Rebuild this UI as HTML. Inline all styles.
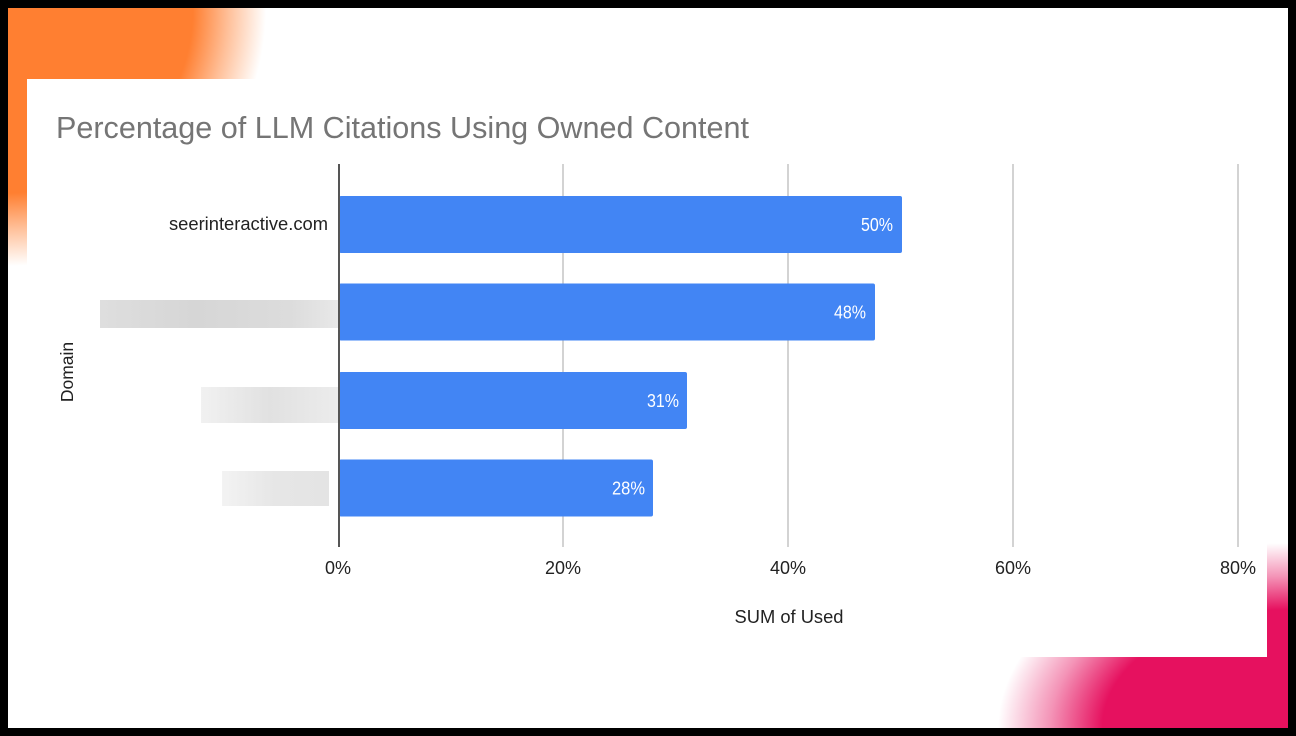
<!DOCTYPE html>
<html>
<head>
<meta charset="utf-8">
<style>
  html, body { margin: 0; padding: 0; }
  body { width: 1296px; height: 736px; background: #000; position: relative; overflow: hidden; }
  .slide {
    position: absolute; left: 8px; top: 8px; width: 1280px; height: 720px;
    background:
      radial-gradient(circle at 0 0, #FF7F31 0px, #FF7F31 185px, rgba(255,127,49,0.5) 220px, rgba(255,127,49,0) 258px),
      radial-gradient(ellipse 290px 185px at 100% 100%, #E6115F 0%, #E6115F 64%, rgba(230,17,95,0.45) 82%, rgba(230,17,95,0) 100%),
      #ffffff;
  }
  .panel { position: absolute; left: 27px; top: 79px; width: 1240px; height: 578px; background: #fff; }
  svg { position: absolute; left: 0; top: 0; }
  text { font-family: "Liberation Sans", Arial, sans-serif; }
</style>
</head>
<body>
<div class="slide"></div>
<div class="panel"></div>
<svg width="1296" height="736" viewBox="0 0 1296 736" xmlns="http://www.w3.org/2000/svg">
  <defs>
    <linearGradient id="b1" x1="0" y1="0" x2="1" y2="0">
      <stop offset="0" stop-color="#dedede"/>
      <stop offset="0.4" stop-color="#d6d6d6"/>
      <stop offset="0.8" stop-color="#dcdcdc"/>
      <stop offset="1" stop-color="#e8e8e8"/>
    </linearGradient>
    <linearGradient id="b2" x1="0" y1="0" x2="1" y2="0">
      <stop offset="0" stop-color="#f1f1f1"/>
      <stop offset="0.5" stop-color="#e1e1e1"/>
      <stop offset="1" stop-color="#ececec"/>
    </linearGradient>
    <linearGradient id="b3" x1="0" y1="0" x2="1" y2="0">
      <stop offset="0" stop-color="#f3f3f3"/>
      <stop offset="0.5" stop-color="#e6e6e6"/>
      <stop offset="1" stop-color="#e4e4e4"/>
    </linearGradient>
  </defs>

  <!-- Title -->
  <text x="56" y="138" font-size="31" fill="#757575" textLength="693" lengthAdjust="spacingAndGlyphs">Percentage of LLM Citations Using Owned Content</text>

  <!-- Gridlines -->
  <g stroke="#d3d3d3" stroke-width="2">
    <line x1="563" y1="164" x2="563" y2="547"/>
    <line x1="788" y1="164" x2="788" y2="547"/>
    <line x1="1013" y1="164" x2="1013" y2="547"/>
    <line x1="1238" y1="164" x2="1238" y2="547"/>
  </g>

  <!-- Bars -->
  <g fill="#4285F4">
    <rect x="339" y="196" width="563" height="57" rx="2"/>
    <rect x="339" y="283.5" width="536" height="57" rx="2"/>
    <rect x="339" y="372" width="348" height="57" rx="2"/>
    <rect x="339" y="459.5" width="314" height="57" rx="2"/>
  </g>

  <!-- Axis -->
  <line x1="339" y1="164" x2="339" y2="547" stroke="#555" stroke-width="2"/>

  <!-- Bar labels -->
  <g font-size="18" fill="#ffffff" text-anchor="end">
    <text x="893" y="231" textLength="32" lengthAdjust="spacingAndGlyphs">50%</text>
    <text x="866" y="318.5" textLength="32" lengthAdjust="spacingAndGlyphs">48%</text>
    <text x="679" y="407" textLength="32" lengthAdjust="spacingAndGlyphs">31%</text>
    <text x="645" y="494.5" textLength="33" lengthAdjust="spacingAndGlyphs">28%</text>
  </g>

  <!-- Category labels -->
  <text x="328" y="230" font-size="18" fill="#222" text-anchor="end" textLength="159" lengthAdjust="spacingAndGlyphs">seerinteractive.com</text>
  <rect x="100" y="300" width="238" height="28" fill="url(#b1)"/>
  <rect x="201" y="387" width="137" height="36" fill="url(#b2)"/>
  <rect x="222" y="471" width="107" height="35" fill="url(#b3)"/>

  <!-- Tick labels -->
  <g font-size="18" fill="#222" text-anchor="middle">
    <text x="338" y="574">0%</text>
    <text x="563" y="574">20%</text>
    <text x="788" y="574">40%</text>
    <text x="1013" y="574">60%</text>
    <text x="1238" y="574">80%</text>
  </g>

  <!-- Axis titles -->
  <text x="789" y="623" font-size="18" fill="#222" text-anchor="middle" textLength="109" lengthAdjust="spacingAndGlyphs">SUM of Used</text>
  <text x="0" y="0" font-size="17.5" fill="#222" text-anchor="middle" transform="translate(73,372) rotate(-90)">Domain</text>
</svg>
</body>
</html>
